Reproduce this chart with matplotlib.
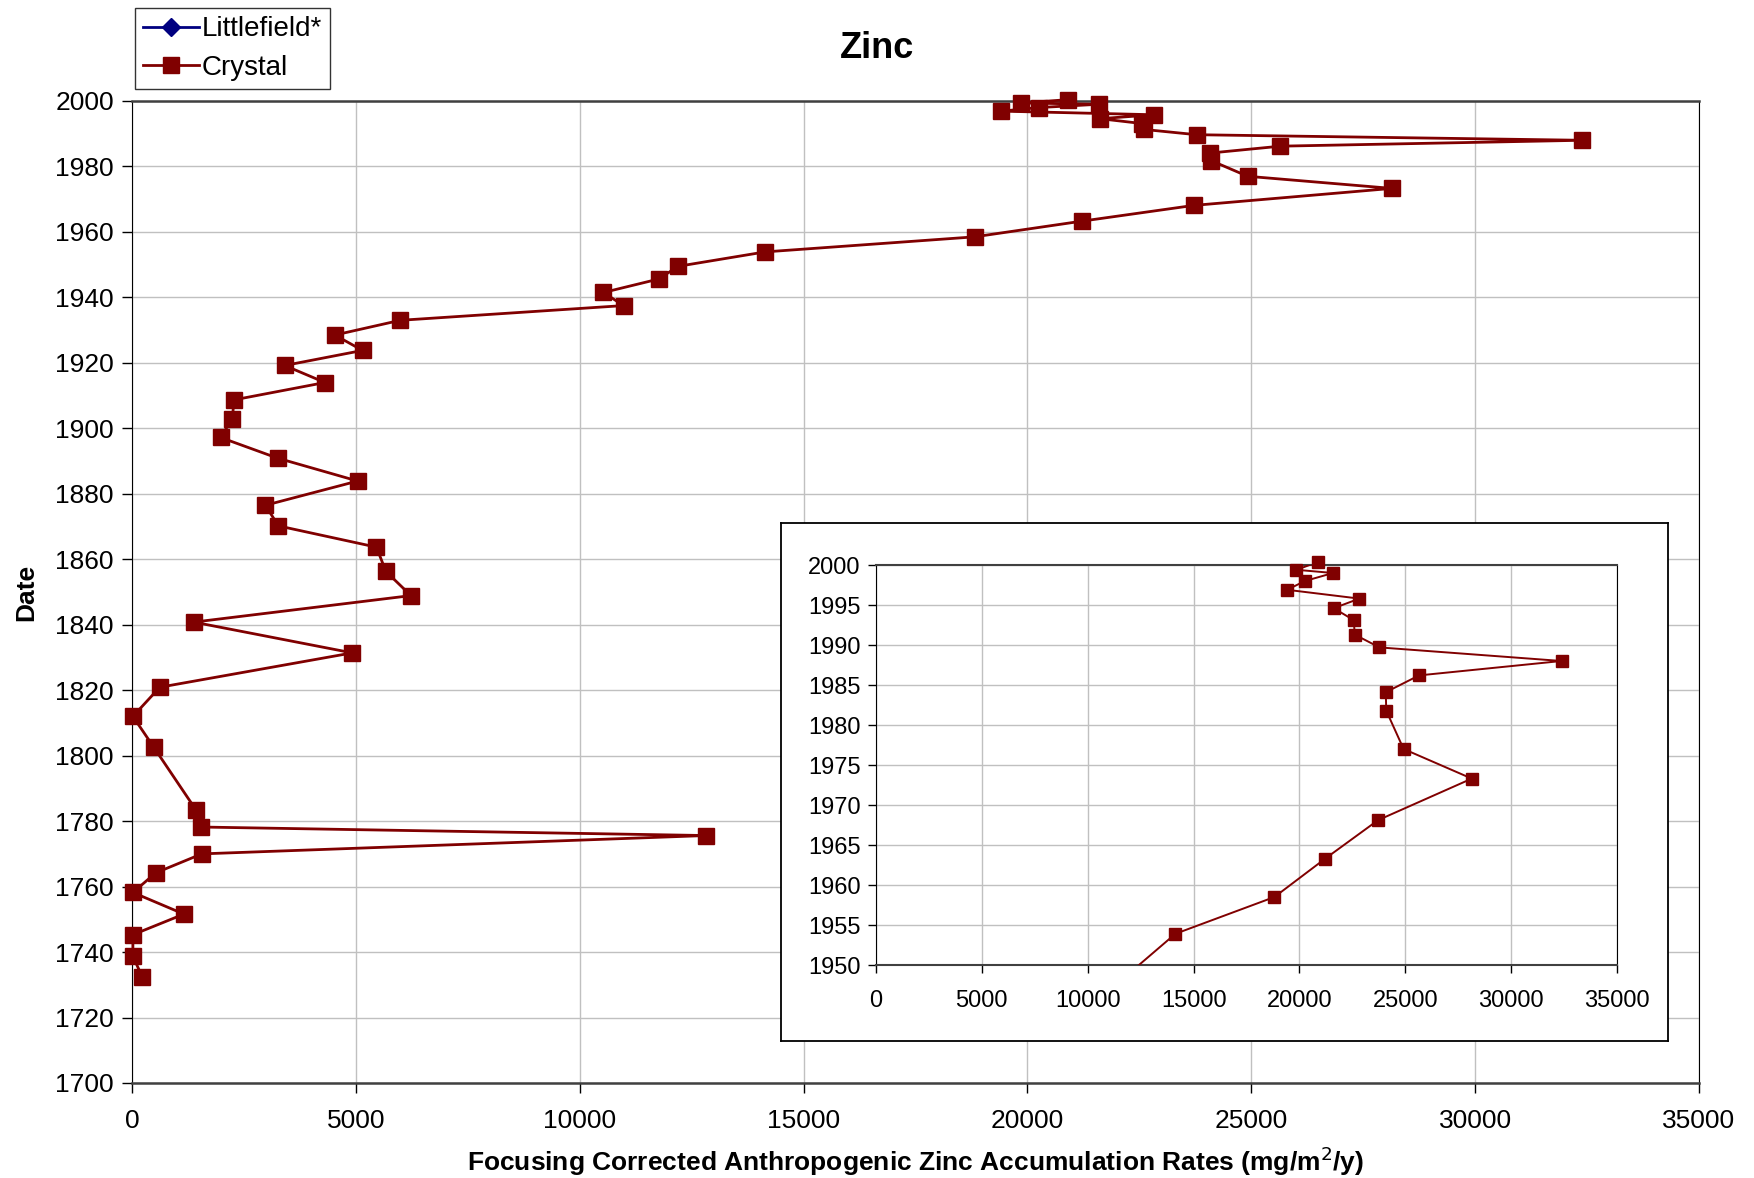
import matplotlib
matplotlib.use("Agg")
import matplotlib.pyplot as plt
import numpy as np

plt.rcParams['font.family'] = ['Liberation Sans', 'DejaVu Sans']

# Crystal core: date vs focusing-corrected anthropogenic Zn accumulation
crystal_date = [2000.4, 1999.4, 1999.0, 1998.0, 1996.9, 1995.8, 1994.6, 1993.1,
                1991.3, 1989.7, 1988.0, 1986.2, 1984.1, 1981.8, 1977.0, 1973.3,
                1968.1, 1963.3, 1958.5, 1953.9, 1949.5, 1945.6, 1941.5, 1937.5,
                1933.0, 1928.5, 1923.8, 1919.2, 1914.0, 1908.7, 1903.0, 1897.2,
                1890.9, 1883.9, 1876.5, 1870.2, 1863.7, 1856.3, 1848.9, 1840.8,
                1831.4, 1820.9, 1812.0, 1802.5, 1783.4, 1778.2, 1775.6, 1770.0,
                1764.2, 1758.2, 1751.6, 1745.3, 1738.7, 1732.4]
crystal_zn = [20900, 19860, 21590, 20260, 19420, 22830, 21620, 22570,
              22610, 23780, 32380, 25650, 24080, 24100, 24920, 28140,
              23710, 21220, 18820, 14140, 12200, 11760, 10530, 10980,
              5990, 4530, 5150, 3410, 4310, 2280, 2240, 1980,
              3250, 5040, 2980, 3270, 5460, 5670, 6230, 1380,
              4920, 620, 20, 490, 1430, 1540, 12820, 1560,
              530, 20, 1160, 20, 20, 230]

# Littlefield* appears only in the legend
littlefield_date = []
littlefield_zn = []

main_xticks = np.arange(0, 35001, 5000)
main_yticks = np.arange(1700, 2001, 20)
inset_yticks = np.arange(1950, 2001, 5)

W, H = 1754, 1178
fig = plt.figure(figsize=(W / 100, H / 100), dpi=100)

red = '#800000'
navy = '#000080'
grid_c = '#c0c0c0'

ax = fig.add_axes([132 / W, 1 - 1083 / H, (1699 - 132) / W, (1083 - 101) / H])
ax.plot(littlefield_zn, littlefield_date, color=navy, marker='D', markersize=9,
        lw=2, label='Littlefield*')
ax.plot(crystal_zn, crystal_date, color=red, marker='s', markersize=11,
        lw=2, label='Crystal', zorder=3, clip_on=False)
ax.set_xlim(0, 35000)
ax.set_ylim(1700, 2000)
ax.set_xticks(main_xticks)
ax.set_yticks(main_yticks)
ax.grid(True, color=grid_c, lw=1)
ax.tick_params(labelsize=19, direction='out', length=7, width=1, pad=6)
ax.tick_params(axis='x', pad=12)
for s in ['left', 'right']:
    ax.spines[s].set_color('black')
for s in ['top', 'bottom']:
    ax.spines[s].set_color('#404040')
    ax.spines[s].set_linewidth(1.8)
ax.set_xlabel('Focusing Corrected Anthropogenic Zinc Accumulation Rates (mg/m$^2$/y)',
              fontsize=19, fontweight='bold', labelpad=8)
ax.set_ylabel('Date', fontsize=19, fontweight='bold', labelpad=12)

fig.text(877 / W, 1 - 48 / H, 'Zinc', fontsize=26, fontweight='bold',
         ha='center', va='center')

leg = fig.legend(loc='upper left', bbox_to_anchor=(135 / W, 1 - 8 / H),
                 fontsize=20, frameon=True, fancybox=False, borderpad=0.3,
                 handlelength=2.0, handletextpad=0.1, labelspacing=0.45,
                 borderaxespad=0)
leg.get_frame().set_edgecolor('black')
leg.get_frame().set_linewidth(1)

# inset frame
box = fig.add_axes([781 / W, 1 - 1041 / H, (1668 - 781) / W, (1041 - 523) / H])
box.set_xticks([])
box.set_yticks([])
box.set_facecolor('white')
for s in box.spines.values():
    s.set_color('black')
    s.set_linewidth(1.3)

ins = fig.add_axes([876 / W, 1 - 965 / H, (1617 - 876) / W, (965 - 565) / H])
ins.plot(crystal_zn, crystal_date, color=red, lw=1.4, zorder=3)
zn = np.array(crystal_zn)
dt = np.array(crystal_date)
keep = dt >= 1950
ins.plot(zn[keep], dt[keep], ls='none', color=red, marker='s', markersize=9,
         zorder=4, clip_on=False)
ins.set_xlim(0, 35000)
ins.set_ylim(1950, 2000)
ins.set_xticks(main_xticks)
ins.set_yticks(inset_yticks)
ins.grid(True, color=grid_c, lw=1)
ins.tick_params(labelsize=17, direction='out', length=6, width=1, pad=5)
ins.tick_params(axis='x', pad=12)
for s in ['left', 'right']:
    ins.spines[s].set_color('black')
for s in ['top', 'bottom']:
    ins.spines[s].set_color('#404040')
    ins.spines[s].set_linewidth(1.5)

fig.savefig('out.png', dpi=100)
